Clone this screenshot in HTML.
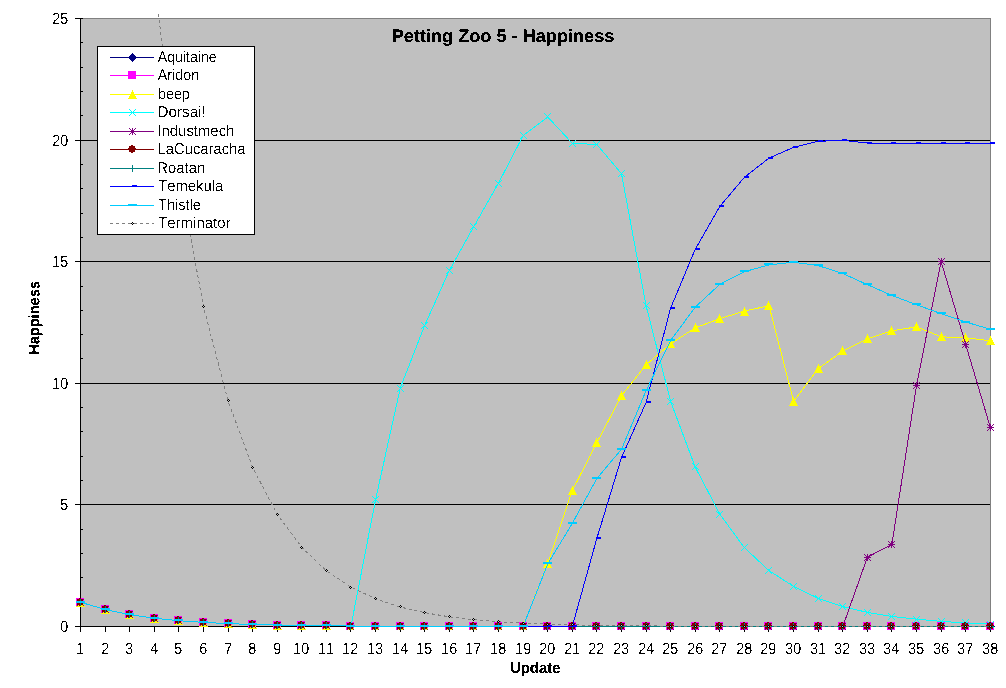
<!DOCTYPE html>
<html><head><meta charset="utf-8"><title>Petting Zoo 5 - Happiness</title>
<style>html,body{margin:0;padding:0;background:#fff;width:1006px;height:688px;overflow:hidden}</style></head>
<body>
<svg width="1006" height="688" viewBox="0 0 1006 688" style="display:block;position:absolute;left:0;top:0;font-kerning:none" text-rendering="geometricPrecision" font-family="'Liberation Sans', sans-serif">
<rect width="1006" height="688" fill="#fff"/>
<g shape-rendering="crispEdges">
<rect x="80" y="18" width="911" height="609" fill="#c0c0c0"/>
<rect x="80" y="504" width="911" height="1" fill="#000"/>
<rect x="80" y="383" width="911" height="1" fill="#000"/>
<rect x="80" y="261" width="911" height="1" fill="#000"/>
<rect x="80" y="140" width="911" height="1" fill="#000"/>
<rect x="80" y="18" width="911" height="1" fill="#808080"/>
<rect x="990" y="18" width="1" height="609" fill="#808080"/>
<rect x="80" y="18" width="1" height="609" fill="#000"/>
<rect x="80" y="626" width="911" height="1" fill="#000"/>
<rect x="75" y="626" width="8" height="1" fill="#000"/>
<rect x="80" y="602" width="3" height="1" fill="#000"/>
<rect x="80" y="577" width="3" height="1" fill="#000"/>
<rect x="80" y="553" width="3" height="1" fill="#000"/>
<rect x="80" y="529" width="3" height="1" fill="#000"/>
<rect x="75" y="504" width="8" height="1" fill="#000"/>
<rect x="80" y="480" width="3" height="1" fill="#000"/>
<rect x="80" y="456" width="3" height="1" fill="#000"/>
<rect x="80" y="431" width="3" height="1" fill="#000"/>
<rect x="80" y="407" width="3" height="1" fill="#000"/>
<rect x="75" y="383" width="8" height="1" fill="#000"/>
<rect x="80" y="358" width="3" height="1" fill="#000"/>
<rect x="80" y="334" width="3" height="1" fill="#000"/>
<rect x="80" y="310" width="3" height="1" fill="#000"/>
<rect x="80" y="286" width="3" height="1" fill="#000"/>
<rect x="75" y="261" width="8" height="1" fill="#000"/>
<rect x="80" y="237" width="3" height="1" fill="#000"/>
<rect x="80" y="213" width="3" height="1" fill="#000"/>
<rect x="80" y="188" width="3" height="1" fill="#000"/>
<rect x="80" y="164" width="3" height="1" fill="#000"/>
<rect x="75" y="140" width="8" height="1" fill="#000"/>
<rect x="80" y="115" width="3" height="1" fill="#000"/>
<rect x="80" y="91" width="3" height="1" fill="#000"/>
<rect x="80" y="67" width="3" height="1" fill="#000"/>
<rect x="80" y="42" width="3" height="1" fill="#000"/>
<rect x="75" y="18" width="8" height="1" fill="#000"/>
<rect x="80" y="626" width="1" height="6" fill="#000"/>
<rect x="105" y="626" width="1" height="6" fill="#000"/>
<rect x="129" y="626" width="1" height="6" fill="#000"/>
<rect x="154" y="626" width="1" height="6" fill="#000"/>
<rect x="178" y="626" width="1" height="6" fill="#000"/>
<rect x="203" y="626" width="1" height="6" fill="#000"/>
<rect x="228" y="626" width="1" height="6" fill="#000"/>
<rect x="252" y="626" width="1" height="6" fill="#000"/>
<rect x="277" y="626" width="1" height="6" fill="#000"/>
<rect x="301" y="626" width="1" height="6" fill="#000"/>
<rect x="326" y="626" width="1" height="6" fill="#000"/>
<rect x="350" y="626" width="1" height="6" fill="#000"/>
<rect x="375" y="626" width="1" height="6" fill="#000"/>
<rect x="400" y="626" width="1" height="6" fill="#000"/>
<rect x="424" y="626" width="1" height="6" fill="#000"/>
<rect x="449" y="626" width="1" height="6" fill="#000"/>
<rect x="473" y="626" width="1" height="6" fill="#000"/>
<rect x="498" y="626" width="1" height="6" fill="#000"/>
<rect x="523" y="626" width="1" height="6" fill="#000"/>
<rect x="547" y="626" width="1" height="6" fill="#000"/>
<rect x="572" y="626" width="1" height="6" fill="#000"/>
<rect x="596" y="626" width="1" height="6" fill="#000"/>
<rect x="621" y="626" width="1" height="6" fill="#000"/>
<rect x="646" y="626" width="1" height="6" fill="#000"/>
<rect x="670" y="626" width="1" height="6" fill="#000"/>
<rect x="695" y="626" width="1" height="6" fill="#000"/>
<rect x="719" y="626" width="1" height="6" fill="#000"/>
<rect x="744" y="626" width="1" height="6" fill="#000"/>
<rect x="768" y="626" width="1" height="6" fill="#000"/>
<rect x="793" y="626" width="1" height="6" fill="#000"/>
<rect x="818" y="626" width="1" height="6" fill="#000"/>
<rect x="842" y="626" width="1" height="6" fill="#000"/>
<rect x="867" y="626" width="1" height="6" fill="#000"/>
<rect x="891" y="626" width="1" height="6" fill="#000"/>
<rect x="916" y="626" width="1" height="6" fill="#000"/>
<rect x="941" y="626" width="1" height="6" fill="#000"/>
<rect x="965" y="626" width="1" height="6" fill="#000"/>
<rect x="990" y="626" width="1" height="6" fill="#000"/>
</g>
<defs><filter id="th" x="-5%" y="-20%" width="110%" height="140%" color-interpolation-filters="sRGB"><feComponentTransfer><feFuncA type="discrete" tableValues="0 0 0 0 0 0 0 0 0 0 0 1 1 1 1 1 1 1 1 1"/></feComponentTransfer></filter><filter id="tb" x="-5%" y="-20%" width="110%" height="140%" color-interpolation-filters="sRGB"><feComponentTransfer><feFuncA type="discrete" tableValues="0 0 1 1 1"/></feComponentTransfer></filter><clipPath id="pc"><rect x="70" y="0" width="936" height="630"/></clipPath></defs>
<g shape-rendering="crispEdges" stroke-width="1" fill="none" clip-path="url(#pc)">
<polyline stroke="#000080" points="80.5,602.2 105.1,609.5 129.7,614.6 154.3,618.2 178.9,620.7 203.4,622.4 228.0,623.6 252.6,624.5 277.2,625.1 301.8,625.5 326.4,625.8 351.0,626.0 375.6,626.2 400.2,626.3 424.7,626.3 449.3,626.4 473.9,626.4 498.5,626.4 523.1,626.5 547.7,626.5 572.3,626.5 596.9,626.5 621.5,626.5 646.1,626.5 670.6,626.5 695.2,626.5 719.8,626.5 744.4,626.5 769.0,626.5 793.6,626.5 818.2,626.5 842.8,626.5 867.4,626.5 891.9,626.5 916.5,626.5 941.1,626.5 965.7,626.5 990.3,626.5"/>
<polygon points="80.5,598 85,602.5 80.5,607 76,602.5" fill="#000080"/>
<polygon points="105.5,605 110,609.5 105.5,614 101,609.5" fill="#000080"/>
<polygon points="129.5,610 134,614.5 129.5,619 125,614.5" fill="#000080"/>
<polygon points="154.5,614 159,618.5 154.5,623 150,618.5" fill="#000080"/>
<polygon points="178.5,616 183,620.5 178.5,625 174,620.5" fill="#000080"/>
<polygon points="203.5,618 208,622.5 203.5,627 199,622.5" fill="#000080"/>
<polygon points="228.5,619 233,623.5 228.5,628 224,623.5" fill="#000080"/>
<polygon points="252.5,620 257,624.5 252.5,629 248,624.5" fill="#000080"/>
<polygon points="277.5,621 282,625.5 277.5,630 273,625.5" fill="#000080"/>
<polygon points="301.5,621 306,625.5 301.5,630 297,625.5" fill="#000080"/>
<polygon points="326.5,621 331,625.5 326.5,630 322,625.5" fill="#000080"/>
<polygon points="350.5,622 355,626.5 350.5,631 346,626.5" fill="#000080"/>
<polygon points="375.5,622 380,626.5 375.5,631 371,626.5" fill="#000080"/>
<polygon points="400.5,622 405,626.5 400.5,631 396,626.5" fill="#000080"/>
<polygon points="424.5,622 429,626.5 424.5,631 420,626.5" fill="#000080"/>
<polygon points="449.5,622 454,626.5 449.5,631 445,626.5" fill="#000080"/>
<polygon points="473.5,622 478,626.5 473.5,631 469,626.5" fill="#000080"/>
<polygon points="498.5,622 503,626.5 498.5,631 494,626.5" fill="#000080"/>
<polygon points="523.5,622 528,626.5 523.5,631 519,626.5" fill="#000080"/>
<polygon points="547.5,622 552,626.5 547.5,631 543,626.5" fill="#000080"/>
<polygon points="572.5,622 577,626.5 572.5,631 568,626.5" fill="#000080"/>
<polygon points="596.5,622 601,626.5 596.5,631 592,626.5" fill="#000080"/>
<polygon points="621.5,622 626,626.5 621.5,631 617,626.5" fill="#000080"/>
<polygon points="646.5,622 651,626.5 646.5,631 642,626.5" fill="#000080"/>
<polygon points="670.5,622 675,626.5 670.5,631 666,626.5" fill="#000080"/>
<polygon points="695.5,622 700,626.5 695.5,631 691,626.5" fill="#000080"/>
<polygon points="719.5,622 724,626.5 719.5,631 715,626.5" fill="#000080"/>
<polygon points="744.5,622 749,626.5 744.5,631 740,626.5" fill="#000080"/>
<polygon points="768.5,622 773,626.5 768.5,631 764,626.5" fill="#000080"/>
<polygon points="793.5,622 798,626.5 793.5,631 789,626.5" fill="#000080"/>
<polygon points="818.5,622 823,626.5 818.5,631 814,626.5" fill="#000080"/>
<polygon points="842.5,622 847,626.5 842.5,631 838,626.5" fill="#000080"/>
<polygon points="867.5,622 872,626.5 867.5,631 863,626.5" fill="#000080"/>
<polygon points="891.5,622 896,626.5 891.5,631 887,626.5" fill="#000080"/>
<polygon points="916.5,622 921,626.5 916.5,631 912,626.5" fill="#000080"/>
<polygon points="941.5,622 946,626.5 941.5,631 937,626.5" fill="#000080"/>
<polygon points="965.5,622 970,626.5 965.5,631 961,626.5" fill="#000080"/>
<polygon points="990.5,622 995,626.5 990.5,631 986,626.5" fill="#000080"/>
<polyline stroke="#ff00ff" points="80.5,602.2 105.1,609.5 129.7,614.6 154.3,618.2 178.9,620.7 203.4,622.4 228.0,623.6 252.6,624.5 277.2,625.1 301.8,625.5 326.4,625.8 351.0,626.0 375.6,626.2 400.2,626.3 424.7,626.3 449.3,626.4 473.9,626.4 498.5,626.4 523.1,626.5 547.7,626.5 572.3,626.5 596.9,626.5 621.5,626.5 646.1,626.5 670.6,626.5 695.2,626.5 719.8,626.5 744.4,626.5 769.0,626.5 793.6,626.5 818.2,626.5 842.8,626.5 867.4,626.5 891.9,626.5 916.5,626.5 941.1,626.5 965.7,626.5 990.3,626.5"/>
<rect x="76" y="598" width="8" height="8" fill="#ff00ff"/>
<rect x="101" y="605" width="8" height="8" fill="#ff00ff"/>
<rect x="125" y="610" width="8" height="8" fill="#ff00ff"/>
<rect x="150" y="614" width="8" height="8" fill="#ff00ff"/>
<rect x="174" y="616" width="8" height="8" fill="#ff00ff"/>
<rect x="199" y="618" width="8" height="8" fill="#ff00ff"/>
<rect x="224" y="619" width="8" height="8" fill="#ff00ff"/>
<rect x="248" y="620" width="8" height="8" fill="#ff00ff"/>
<rect x="273" y="621" width="8" height="8" fill="#ff00ff"/>
<rect x="297" y="621" width="8" height="8" fill="#ff00ff"/>
<rect x="322" y="621" width="8" height="8" fill="#ff00ff"/>
<rect x="346" y="622" width="8" height="8" fill="#ff00ff"/>
<rect x="371" y="622" width="8" height="8" fill="#ff00ff"/>
<rect x="396" y="622" width="8" height="8" fill="#ff00ff"/>
<rect x="420" y="622" width="8" height="8" fill="#ff00ff"/>
<rect x="445" y="622" width="8" height="8" fill="#ff00ff"/>
<rect x="469" y="622" width="8" height="8" fill="#ff00ff"/>
<rect x="494" y="622" width="8" height="8" fill="#ff00ff"/>
<rect x="519" y="622" width="8" height="8" fill="#ff00ff"/>
<rect x="543" y="622" width="8" height="8" fill="#ff00ff"/>
<rect x="568" y="622" width="8" height="8" fill="#ff00ff"/>
<rect x="592" y="622" width="8" height="8" fill="#ff00ff"/>
<rect x="617" y="622" width="8" height="8" fill="#ff00ff"/>
<rect x="642" y="622" width="8" height="8" fill="#ff00ff"/>
<rect x="666" y="622" width="8" height="8" fill="#ff00ff"/>
<rect x="691" y="622" width="8" height="8" fill="#ff00ff"/>
<rect x="715" y="622" width="8" height="8" fill="#ff00ff"/>
<rect x="740" y="622" width="8" height="8" fill="#ff00ff"/>
<rect x="764" y="622" width="8" height="8" fill="#ff00ff"/>
<rect x="789" y="622" width="8" height="8" fill="#ff00ff"/>
<rect x="814" y="622" width="8" height="8" fill="#ff00ff"/>
<rect x="838" y="622" width="8" height="8" fill="#ff00ff"/>
<rect x="863" y="622" width="8" height="8" fill="#ff00ff"/>
<rect x="887" y="622" width="8" height="8" fill="#ff00ff"/>
<rect x="912" y="622" width="8" height="8" fill="#ff00ff"/>
<rect x="937" y="622" width="8" height="8" fill="#ff00ff"/>
<rect x="961" y="622" width="8" height="8" fill="#ff00ff"/>
<rect x="986" y="622" width="8" height="8" fill="#ff00ff"/>
<polyline stroke="#ffff00" points="80.5,602.2 105.1,609.5 129.7,614.6 154.3,618.2 178.9,620.7 203.4,622.4 228.0,623.6 252.6,624.5 277.2,625.1 301.8,625.5 326.4,625.8 351.0,626.0 375.6,626.2 400.2,626.3 424.7,626.3 449.3,626.4 473.9,626.4 498.5,626.4 523.1,626.5 547.7,563.5 572.3,490.6 596.9,442.6 621.5,395.7 646.1,364.8 670.6,343.9 695.2,327.9 719.8,318.6 744.4,311.1 769.0,305.7 793.6,401.3 818.2,368.7 842.8,351.0 867.4,338.8 891.9,330.8 916.5,326.9 941.1,336.8 965.7,337.8 990.3,340.7"/>
<polygon points="80.5,597.5 85,607 76,607" fill="#ffff00"/>
<polygon points="105.5,604.5 110,614 101,614" fill="#ffff00"/>
<polygon points="129.5,609.5 134,619 125,619" fill="#ffff00"/>
<polygon points="154.5,613.5 159,623 150,623" fill="#ffff00"/>
<polygon points="178.5,615.5 183,625 174,625" fill="#ffff00"/>
<polygon points="203.5,617.5 208,627 199,627" fill="#ffff00"/>
<polygon points="228.5,618.5 233,628 224,628" fill="#ffff00"/>
<polygon points="252.5,619.5 257,629 248,629" fill="#ffff00"/>
<polygon points="277.5,620.5 282,630 273,630" fill="#ffff00"/>
<polygon points="301.5,620.5 306,630 297,630" fill="#ffff00"/>
<polygon points="326.5,620.5 331,630 322,630" fill="#ffff00"/>
<polygon points="350.5,621.5 355,631 346,631" fill="#ffff00"/>
<polygon points="375.5,621.5 380,631 371,631" fill="#ffff00"/>
<polygon points="400.5,621.5 405,631 396,631" fill="#ffff00"/>
<polygon points="424.5,621.5 429,631 420,631" fill="#ffff00"/>
<polygon points="449.5,621.5 454,631 445,631" fill="#ffff00"/>
<polygon points="473.5,621.5 478,631 469,631" fill="#ffff00"/>
<polygon points="498.5,621.5 503,631 494,631" fill="#ffff00"/>
<polygon points="523.5,621.5 528,631 519,631" fill="#ffff00"/>
<polygon points="547.5,558.5 552,568 543,568" fill="#ffff00"/>
<polygon points="572.5,485.5 577,495 568,495" fill="#ffff00"/>
<polygon points="596.5,437.5 601,447 592,447" fill="#ffff00"/>
<polygon points="621.5,390.5 626,400 617,400" fill="#ffff00"/>
<polygon points="646.5,359.5 651,369 642,369" fill="#ffff00"/>
<polygon points="670.5,338.5 675,348 666,348" fill="#ffff00"/>
<polygon points="695.5,322.5 700,332 691,332" fill="#ffff00"/>
<polygon points="719.5,313.5 724,323 715,323" fill="#ffff00"/>
<polygon points="744.5,306.5 749,316 740,316" fill="#ffff00"/>
<polygon points="768.5,300.5 773,310 764,310" fill="#ffff00"/>
<polygon points="793.5,396.5 798,406 789,406" fill="#ffff00"/>
<polygon points="818.5,363.5 823,373 814,373" fill="#ffff00"/>
<polygon points="842.5,345.5 847,355 838,355" fill="#ffff00"/>
<polygon points="867.5,333.5 872,343 863,343" fill="#ffff00"/>
<polygon points="891.5,325.5 896,335 887,335" fill="#ffff00"/>
<polygon points="916.5,321.5 921,331 912,331" fill="#ffff00"/>
<polygon points="941.5,331.5 946,341 937,341" fill="#ffff00"/>
<polygon points="965.5,332.5 970,342 961,342" fill="#ffff00"/>
<polygon points="990.5,335.5 995,345 986,345" fill="#ffff00"/>
<polyline stroke="#00ffff" points="80.5,602.2 105.1,609.5 129.7,614.6 154.3,618.2 178.9,620.7 203.4,622.4 228.0,623.6 252.6,624.5 277.2,625.1 301.8,625.5 326.4,625.8 351.0,626.0 375.6,499.5 400.2,388.2 424.7,325.4 449.3,270.5 473.9,226.4 498.5,183.1 523.1,135.7 547.7,117.0 572.3,143.3 596.9,144.5 621.5,173.7 646.1,306.0 670.6,401.3 695.2,467.0 719.8,514.1 744.4,547.7 769.0,570.6 793.6,586.4 818.2,598.3 842.8,606.6 867.4,612.4 891.9,616.5 916.5,619.2 941.1,621.4 965.7,622.9 990.3,624.1"/>
<path d="M77,599L84,606M84,599L77,606" stroke="#00ffff" fill="none"/>
<path d="M102,606L109,613M109,606L102,613" stroke="#00ffff" fill="none"/>
<path d="M126,611L133,618M133,611L126,618" stroke="#00ffff" fill="none"/>
<path d="M151,615L158,622M158,615L151,622" stroke="#00ffff" fill="none"/>
<path d="M175,617L182,624M182,617L175,624" stroke="#00ffff" fill="none"/>
<path d="M200,619L207,626M207,619L200,626" stroke="#00ffff" fill="none"/>
<path d="M225,620L232,627M232,620L225,627" stroke="#00ffff" fill="none"/>
<path d="M249,621L256,628M256,621L249,628" stroke="#00ffff" fill="none"/>
<path d="M274,622L281,629M281,622L274,629" stroke="#00ffff" fill="none"/>
<path d="M298,622L305,629M305,622L298,629" stroke="#00ffff" fill="none"/>
<path d="M323,622L330,629M330,622L323,629" stroke="#00ffff" fill="none"/>
<path d="M347,623L354,630M354,623L347,630" stroke="#00ffff" fill="none"/>
<path d="M372,496L379,503M379,496L372,503" stroke="#00ffff" fill="none"/>
<path d="M397,385L404,392M404,385L397,392" stroke="#00ffff" fill="none"/>
<path d="M421,322L428,329M428,322L421,329" stroke="#00ffff" fill="none"/>
<path d="M446,267L453,274M453,267L446,274" stroke="#00ffff" fill="none"/>
<path d="M470,223L477,230M477,223L470,230" stroke="#00ffff" fill="none"/>
<path d="M495,180L502,187M502,180L495,187" stroke="#00ffff" fill="none"/>
<path d="M520,132L527,139M527,132L520,139" stroke="#00ffff" fill="none"/>
<path d="M544,113L551,120M551,113L544,120" stroke="#00ffff" fill="none"/>
<path d="M569,140L576,147M576,140L569,147" stroke="#00ffff" fill="none"/>
<path d="M593,141L600,148M600,141L593,148" stroke="#00ffff" fill="none"/>
<path d="M618,170L625,177M625,170L618,177" stroke="#00ffff" fill="none"/>
<path d="M643,302L650,309M650,302L643,309" stroke="#00ffff" fill="none"/>
<path d="M667,398L674,405M674,398L667,405" stroke="#00ffff" fill="none"/>
<path d="M692,463L699,470M699,463L692,470" stroke="#00ffff" fill="none"/>
<path d="M716,511L723,518M723,511L716,518" stroke="#00ffff" fill="none"/>
<path d="M741,544L748,551M748,544L741,551" stroke="#00ffff" fill="none"/>
<path d="M765,567L772,574M772,567L765,574" stroke="#00ffff" fill="none"/>
<path d="M790,583L797,590M797,583L790,590" stroke="#00ffff" fill="none"/>
<path d="M815,595L822,602M822,595L815,602" stroke="#00ffff" fill="none"/>
<path d="M839,603L846,610M846,603L839,610" stroke="#00ffff" fill="none"/>
<path d="M864,609L871,616M871,609L864,616" stroke="#00ffff" fill="none"/>
<path d="M888,613L895,620M895,613L888,620" stroke="#00ffff" fill="none"/>
<path d="M913,616L920,623M920,616L913,623" stroke="#00ffff" fill="none"/>
<path d="M938,618L945,625M945,618L938,625" stroke="#00ffff" fill="none"/>
<path d="M962,619L969,626M969,619L962,626" stroke="#00ffff" fill="none"/>
<path d="M987,621L994,628M994,621L987,628" stroke="#00ffff" fill="none"/>
<polyline stroke="#800080" points="80.5,602.2 105.1,609.5 129.7,614.6 154.3,618.2 178.9,620.7 203.4,622.4 228.0,623.6 252.6,624.5 277.2,625.1 301.8,625.5 326.4,625.8 351.0,626.0 375.6,626.2 400.2,626.3 424.7,626.3 449.3,626.4 473.9,626.4 498.5,626.4 523.1,626.5 547.7,626.5 572.3,626.5 596.9,626.5 621.5,626.5 646.1,626.5 670.6,626.5 695.2,626.5 719.8,626.5 744.4,626.5 769.0,626.5 793.6,626.5 818.2,626.5 842.8,626.5 867.4,557.2 891.9,544.3 916.5,385.5 941.1,261.5 965.7,344.4 990.3,427.3"/>
<path d="M77,599L84,606M84,599L77,606M80.5,599V606M77,602.5H84" stroke="#800080" fill="none"/>
<path d="M102,606L109,613M109,606L102,613M105.5,606V613M102,609.5H109" stroke="#800080" fill="none"/>
<path d="M126,611L133,618M133,611L126,618M129.5,611V618M126,614.5H133" stroke="#800080" fill="none"/>
<path d="M151,615L158,622M158,615L151,622M154.5,615V622M151,618.5H158" stroke="#800080" fill="none"/>
<path d="M175,617L182,624M182,617L175,624M178.5,617V624M175,620.5H182" stroke="#800080" fill="none"/>
<path d="M200,619L207,626M207,619L200,626M203.5,619V626M200,622.5H207" stroke="#800080" fill="none"/>
<path d="M225,620L232,627M232,620L225,627M228.5,620V627M225,623.5H232" stroke="#800080" fill="none"/>
<path d="M249,621L256,628M256,621L249,628M252.5,621V628M249,624.5H256" stroke="#800080" fill="none"/>
<path d="M274,622L281,629M281,622L274,629M277.5,622V629M274,625.5H281" stroke="#800080" fill="none"/>
<path d="M298,622L305,629M305,622L298,629M301.5,622V629M298,625.5H305" stroke="#800080" fill="none"/>
<path d="M323,622L330,629M330,622L323,629M326.5,622V629M323,625.5H330" stroke="#800080" fill="none"/>
<path d="M347,623L354,630M354,623L347,630M350.5,623V630M347,626.5H354" stroke="#800080" fill="none"/>
<path d="M372,623L379,630M379,623L372,630M375.5,623V630M372,626.5H379" stroke="#800080" fill="none"/>
<path d="M397,623L404,630M404,623L397,630M400.5,623V630M397,626.5H404" stroke="#800080" fill="none"/>
<path d="M421,623L428,630M428,623L421,630M424.5,623V630M421,626.5H428" stroke="#800080" fill="none"/>
<path d="M446,623L453,630M453,623L446,630M449.5,623V630M446,626.5H453" stroke="#800080" fill="none"/>
<path d="M470,623L477,630M477,623L470,630M473.5,623V630M470,626.5H477" stroke="#800080" fill="none"/>
<path d="M495,623L502,630M502,623L495,630M498.5,623V630M495,626.5H502" stroke="#800080" fill="none"/>
<path d="M520,623L527,630M527,623L520,630M523.5,623V630M520,626.5H527" stroke="#800080" fill="none"/>
<path d="M544,623L551,630M551,623L544,630M547.5,623V630M544,626.5H551" stroke="#800080" fill="none"/>
<path d="M569,623L576,630M576,623L569,630M572.5,623V630M569,626.5H576" stroke="#800080" fill="none"/>
<path d="M593,623L600,630M600,623L593,630M596.5,623V630M593,626.5H600" stroke="#800080" fill="none"/>
<path d="M618,623L625,630M625,623L618,630M621.5,623V630M618,626.5H625" stroke="#800080" fill="none"/>
<path d="M643,623L650,630M650,623L643,630M646.5,623V630M643,626.5H650" stroke="#800080" fill="none"/>
<path d="M667,623L674,630M674,623L667,630M670.5,623V630M667,626.5H674" stroke="#800080" fill="none"/>
<path d="M692,623L699,630M699,623L692,630M695.5,623V630M692,626.5H699" stroke="#800080" fill="none"/>
<path d="M716,623L723,630M723,623L716,630M719.5,623V630M716,626.5H723" stroke="#800080" fill="none"/>
<path d="M741,623L748,630M748,623L741,630M744.5,623V630M741,626.5H748" stroke="#800080" fill="none"/>
<path d="M765,623L772,630M772,623L765,630M768.5,623V630M765,626.5H772" stroke="#800080" fill="none"/>
<path d="M790,623L797,630M797,623L790,630M793.5,623V630M790,626.5H797" stroke="#800080" fill="none"/>
<path d="M815,623L822,630M822,623L815,630M818.5,623V630M815,626.5H822" stroke="#800080" fill="none"/>
<path d="M839,623L846,630M846,623L839,630M842.5,623V630M839,626.5H846" stroke="#800080" fill="none"/>
<path d="M864,554L871,561M871,554L864,561M867.5,554V561M864,557.5H871" stroke="#800080" fill="none"/>
<path d="M888,541L895,548M895,541L888,548M891.5,541V548M888,544.5H895" stroke="#800080" fill="none"/>
<path d="M913,382L920,389M920,382L913,389M916.5,382V389M913,385.5H920" stroke="#800080" fill="none"/>
<path d="M938,258L945,265M945,258L938,265M941.5,258V265M938,261.5H945" stroke="#800080" fill="none"/>
<path d="M962,341L969,348M969,341L962,348M965.5,341V348M962,344.5H969" stroke="#800080" fill="none"/>
<path d="M987,424L994,431M994,424L987,431M990.5,424V431M987,427.5H994" stroke="#800080" fill="none"/>
<polyline stroke="#800000" points="80.5,602.2 105.1,609.5 129.7,614.6 154.3,618.2 178.9,620.7 203.4,622.4 228.0,623.6 252.6,624.5 277.2,625.1 301.8,625.5 326.4,625.8 351.0,626.0 375.6,626.2 400.2,626.3 424.7,626.3 449.3,626.4 473.9,626.4 498.5,626.4 523.1,626.5 547.7,626.5 572.3,626.5 596.9,626.5 621.5,626.5 646.1,626.5 670.6,626.5 695.2,626.5 719.8,626.5 744.4,626.5 769.0,626.5 793.6,626.5 818.2,626.5 842.8,626.5 867.4,626.5 891.9,626.5 916.5,626.5 941.1,626.5 965.7,626.5 990.3,626.5"/>
<path d="M79,598h2v1h2v2h1v2h-1v2h-2v1h-2v-1h-2v-2h-1v-2h1v-2h2z" fill="#800000"/>
<path d="M104,605h2v1h2v2h1v2h-1v2h-2v1h-2v-1h-2v-2h-1v-2h1v-2h2z" fill="#800000"/>
<path d="M128,610h2v1h2v2h1v2h-1v2h-2v1h-2v-1h-2v-2h-1v-2h1v-2h2z" fill="#800000"/>
<path d="M153,614h2v1h2v2h1v2h-1v2h-2v1h-2v-1h-2v-2h-1v-2h1v-2h2z" fill="#800000"/>
<path d="M177,616h2v1h2v2h1v2h-1v2h-2v1h-2v-1h-2v-2h-1v-2h1v-2h2z" fill="#800000"/>
<path d="M202,618h2v1h2v2h1v2h-1v2h-2v1h-2v-1h-2v-2h-1v-2h1v-2h2z" fill="#800000"/>
<path d="M227,619h2v1h2v2h1v2h-1v2h-2v1h-2v-1h-2v-2h-1v-2h1v-2h2z" fill="#800000"/>
<path d="M251,620h2v1h2v2h1v2h-1v2h-2v1h-2v-1h-2v-2h-1v-2h1v-2h2z" fill="#800000"/>
<path d="M276,621h2v1h2v2h1v2h-1v2h-2v1h-2v-1h-2v-2h-1v-2h1v-2h2z" fill="#800000"/>
<path d="M300,621h2v1h2v2h1v2h-1v2h-2v1h-2v-1h-2v-2h-1v-2h1v-2h2z" fill="#800000"/>
<path d="M325,621h2v1h2v2h1v2h-1v2h-2v1h-2v-1h-2v-2h-1v-2h1v-2h2z" fill="#800000"/>
<path d="M349,622h2v1h2v2h1v2h-1v2h-2v1h-2v-1h-2v-2h-1v-2h1v-2h2z" fill="#800000"/>
<path d="M374,622h2v1h2v2h1v2h-1v2h-2v1h-2v-1h-2v-2h-1v-2h1v-2h2z" fill="#800000"/>
<path d="M399,622h2v1h2v2h1v2h-1v2h-2v1h-2v-1h-2v-2h-1v-2h1v-2h2z" fill="#800000"/>
<path d="M423,622h2v1h2v2h1v2h-1v2h-2v1h-2v-1h-2v-2h-1v-2h1v-2h2z" fill="#800000"/>
<path d="M448,622h2v1h2v2h1v2h-1v2h-2v1h-2v-1h-2v-2h-1v-2h1v-2h2z" fill="#800000"/>
<path d="M472,622h2v1h2v2h1v2h-1v2h-2v1h-2v-1h-2v-2h-1v-2h1v-2h2z" fill="#800000"/>
<path d="M497,622h2v1h2v2h1v2h-1v2h-2v1h-2v-1h-2v-2h-1v-2h1v-2h2z" fill="#800000"/>
<path d="M522,622h2v1h2v2h1v2h-1v2h-2v1h-2v-1h-2v-2h-1v-2h1v-2h2z" fill="#800000"/>
<path d="M546,622h2v1h2v2h1v2h-1v2h-2v1h-2v-1h-2v-2h-1v-2h1v-2h2z" fill="#800000"/>
<path d="M571,622h2v1h2v2h1v2h-1v2h-2v1h-2v-1h-2v-2h-1v-2h1v-2h2z" fill="#800000"/>
<path d="M595,622h2v1h2v2h1v2h-1v2h-2v1h-2v-1h-2v-2h-1v-2h1v-2h2z" fill="#800000"/>
<path d="M620,622h2v1h2v2h1v2h-1v2h-2v1h-2v-1h-2v-2h-1v-2h1v-2h2z" fill="#800000"/>
<path d="M645,622h2v1h2v2h1v2h-1v2h-2v1h-2v-1h-2v-2h-1v-2h1v-2h2z" fill="#800000"/>
<path d="M669,622h2v1h2v2h1v2h-1v2h-2v1h-2v-1h-2v-2h-1v-2h1v-2h2z" fill="#800000"/>
<path d="M694,622h2v1h2v2h1v2h-1v2h-2v1h-2v-1h-2v-2h-1v-2h1v-2h2z" fill="#800000"/>
<path d="M718,622h2v1h2v2h1v2h-1v2h-2v1h-2v-1h-2v-2h-1v-2h1v-2h2z" fill="#800000"/>
<path d="M743,622h2v1h2v2h1v2h-1v2h-2v1h-2v-1h-2v-2h-1v-2h1v-2h2z" fill="#800000"/>
<path d="M767,622h2v1h2v2h1v2h-1v2h-2v1h-2v-1h-2v-2h-1v-2h1v-2h2z" fill="#800000"/>
<path d="M792,622h2v1h2v2h1v2h-1v2h-2v1h-2v-1h-2v-2h-1v-2h1v-2h2z" fill="#800000"/>
<path d="M817,622h2v1h2v2h1v2h-1v2h-2v1h-2v-1h-2v-2h-1v-2h1v-2h2z" fill="#800000"/>
<path d="M841,622h2v1h2v2h1v2h-1v2h-2v1h-2v-1h-2v-2h-1v-2h1v-2h2z" fill="#800000"/>
<path d="M866,622h2v1h2v2h1v2h-1v2h-2v1h-2v-1h-2v-2h-1v-2h1v-2h2z" fill="#800000"/>
<path d="M890,622h2v1h2v2h1v2h-1v2h-2v1h-2v-1h-2v-2h-1v-2h1v-2h2z" fill="#800000"/>
<path d="M915,622h2v1h2v2h1v2h-1v2h-2v1h-2v-1h-2v-2h-1v-2h1v-2h2z" fill="#800000"/>
<path d="M940,622h2v1h2v2h1v2h-1v2h-2v1h-2v-1h-2v-2h-1v-2h1v-2h2z" fill="#800000"/>
<path d="M964,622h2v1h2v2h1v2h-1v2h-2v1h-2v-1h-2v-2h-1v-2h1v-2h2z" fill="#800000"/>
<path d="M989,622h2v1h2v2h1v2h-1v2h-2v1h-2v-1h-2v-2h-1v-2h1v-2h2z" fill="#800000"/>
<polyline stroke="#008080" points="80.5,602.2 105.1,609.5 129.7,614.6 154.3,618.2 178.9,620.7 203.4,622.4 228.0,623.6 252.6,624.5 277.2,625.1 301.8,625.5 326.4,625.8 351.0,626.0 375.6,626.2 400.2,626.3 424.7,626.3 449.3,626.4 473.9,626.4 498.5,626.4 523.1,626.5 547.7,626.5 572.3,626.5 596.9,626.5 621.5,626.5 646.1,626.5 670.6,626.5 695.2,626.5 719.8,626.5 744.4,626.5 769.0,626.5 793.6,626.5 818.2,626.5 842.8,626.5 867.4,626.5 891.9,626.5 916.5,626.5 941.1,626.5 965.7,626.5 990.3,626.5"/>
<path d="M80.5,599V606M77,602.5H84" stroke="#008080" fill="none"/>
<path d="M105.5,606V613M102,609.5H109" stroke="#008080" fill="none"/>
<path d="M129.5,611V618M126,614.5H133" stroke="#008080" fill="none"/>
<path d="M154.5,615V622M151,618.5H158" stroke="#008080" fill="none"/>
<path d="M178.5,617V624M175,620.5H182" stroke="#008080" fill="none"/>
<path d="M203.5,619V626M200,622.5H207" stroke="#008080" fill="none"/>
<path d="M228.5,620V627M225,623.5H232" stroke="#008080" fill="none"/>
<path d="M252.5,621V628M249,624.5H256" stroke="#008080" fill="none"/>
<path d="M277.5,622V629M274,625.5H281" stroke="#008080" fill="none"/>
<path d="M301.5,622V629M298,625.5H305" stroke="#008080" fill="none"/>
<path d="M326.5,622V629M323,625.5H330" stroke="#008080" fill="none"/>
<path d="M350.5,623V630M347,626.5H354" stroke="#008080" fill="none"/>
<path d="M375.5,623V630M372,626.5H379" stroke="#008080" fill="none"/>
<path d="M400.5,623V630M397,626.5H404" stroke="#008080" fill="none"/>
<path d="M424.5,623V630M421,626.5H428" stroke="#008080" fill="none"/>
<path d="M449.5,623V630M446,626.5H453" stroke="#008080" fill="none"/>
<path d="M473.5,623V630M470,626.5H477" stroke="#008080" fill="none"/>
<path d="M498.5,623V630M495,626.5H502" stroke="#008080" fill="none"/>
<path d="M523.5,623V630M520,626.5H527" stroke="#008080" fill="none"/>
<path d="M547.5,623V630M544,626.5H551" stroke="#008080" fill="none"/>
<path d="M572.5,623V630M569,626.5H576" stroke="#008080" fill="none"/>
<path d="M596.5,623V630M593,626.5H600" stroke="#008080" fill="none"/>
<path d="M621.5,623V630M618,626.5H625" stroke="#008080" fill="none"/>
<path d="M646.5,623V630M643,626.5H650" stroke="#008080" fill="none"/>
<path d="M670.5,623V630M667,626.5H674" stroke="#008080" fill="none"/>
<path d="M695.5,623V630M692,626.5H699" stroke="#008080" fill="none"/>
<path d="M719.5,623V630M716,626.5H723" stroke="#008080" fill="none"/>
<path d="M744.5,623V630M741,626.5H748" stroke="#008080" fill="none"/>
<path d="M768.5,623V630M765,626.5H772" stroke="#008080" fill="none"/>
<path d="M793.5,623V630M790,626.5H797" stroke="#008080" fill="none"/>
<path d="M818.5,623V630M815,626.5H822" stroke="#008080" fill="none"/>
<path d="M842.5,623V630M839,626.5H846" stroke="#008080" fill="none"/>
<path d="M867.5,623V630M864,626.5H871" stroke="#008080" fill="none"/>
<path d="M891.5,623V630M888,626.5H895" stroke="#008080" fill="none"/>
<path d="M916.5,623V630M913,626.5H920" stroke="#008080" fill="none"/>
<path d="M941.5,623V630M938,626.5H945" stroke="#008080" fill="none"/>
<path d="M965.5,623V630M962,626.5H969" stroke="#008080" fill="none"/>
<path d="M990.5,623V630M987,626.5H994" stroke="#008080" fill="none"/>
<polyline stroke="#0000ff" points="80.5,602.2 105.1,609.5 129.7,614.6 154.3,618.2 178.9,620.7 203.4,622.4 228.0,623.6 252.6,624.5 277.2,625.1 301.8,625.5 326.4,625.8 351.0,626.0 375.6,626.2 400.2,626.3 424.7,626.3 449.3,626.4 473.9,626.4 498.5,626.4 523.1,626.5 547.7,626.5 572.3,626.5 596.9,538.2 621.5,457.5 646.1,402.5 670.6,308.2 695.2,249.3 719.8,206.5 744.4,177.3 769.0,158.1 793.6,147.4 818.2,141.3 842.8,140.3 867.4,143.0 891.9,143.0 916.5,143.0 941.1,143.0 965.7,143.0 990.3,143.0"/>
<rect x="80" y="601" width="5" height="2" fill="#0000ff"/>
<rect x="105" y="608" width="5" height="2" fill="#0000ff"/>
<rect x="129" y="613" width="5" height="2" fill="#0000ff"/>
<rect x="154" y="617" width="5" height="2" fill="#0000ff"/>
<rect x="178" y="619" width="5" height="2" fill="#0000ff"/>
<rect x="203" y="621" width="5" height="2" fill="#0000ff"/>
<rect x="228" y="622" width="5" height="2" fill="#0000ff"/>
<rect x="252" y="623" width="5" height="2" fill="#0000ff"/>
<rect x="277" y="624" width="5" height="2" fill="#0000ff"/>
<rect x="301" y="624" width="5" height="2" fill="#0000ff"/>
<rect x="326" y="624" width="5" height="2" fill="#0000ff"/>
<rect x="350" y="625" width="5" height="2" fill="#0000ff"/>
<rect x="375" y="625" width="5" height="2" fill="#0000ff"/>
<rect x="400" y="625" width="5" height="2" fill="#0000ff"/>
<rect x="424" y="625" width="5" height="2" fill="#0000ff"/>
<rect x="449" y="625" width="5" height="2" fill="#0000ff"/>
<rect x="473" y="625" width="5" height="2" fill="#0000ff"/>
<rect x="498" y="625" width="5" height="2" fill="#0000ff"/>
<rect x="523" y="625" width="5" height="2" fill="#0000ff"/>
<rect x="547" y="625" width="5" height="2" fill="#0000ff"/>
<rect x="572" y="625" width="5" height="2" fill="#0000ff"/>
<rect x="596" y="537" width="5" height="2" fill="#0000ff"/>
<rect x="621" y="456" width="5" height="2" fill="#0000ff"/>
<rect x="646" y="401" width="5" height="2" fill="#0000ff"/>
<rect x="670" y="307" width="5" height="2" fill="#0000ff"/>
<rect x="695" y="248" width="5" height="2" fill="#0000ff"/>
<rect x="719" y="205" width="5" height="2" fill="#0000ff"/>
<rect x="744" y="176" width="5" height="2" fill="#0000ff"/>
<rect x="768" y="157" width="5" height="2" fill="#0000ff"/>
<rect x="793" y="146" width="5" height="2" fill="#0000ff"/>
<rect x="818" y="140" width="5" height="2" fill="#0000ff"/>
<rect x="842" y="139" width="5" height="2" fill="#0000ff"/>
<rect x="867" y="142" width="5" height="2" fill="#0000ff"/>
<rect x="891" y="142" width="5" height="2" fill="#0000ff"/>
<rect x="916" y="142" width="5" height="2" fill="#0000ff"/>
<rect x="941" y="142" width="5" height="2" fill="#0000ff"/>
<rect x="965" y="142" width="5" height="2" fill="#0000ff"/>
<rect x="990" y="142" width="5" height="2" fill="#0000ff"/>
<polyline stroke="#00ccff" points="80.5,602.2 105.1,609.5 129.7,614.6 154.3,618.2 178.9,620.7 203.4,622.4 228.0,623.6 252.6,624.5 277.2,625.1 301.8,625.5 326.4,625.8 351.0,626.0 375.6,626.2 400.2,626.3 424.7,626.3 449.3,626.4 473.9,626.4 498.5,626.4 523.1,626.5 547.7,564.0 572.3,523.4 596.9,478.4 621.5,449.2 646.1,390.6 670.6,340.5 695.2,307.2 719.8,284.3 744.4,271.7 769.0,264.9 793.6,262.2 818.2,265.6 842.8,273.6 867.4,284.6 891.9,295.5 916.5,304.7 941.1,313.7 965.7,322.0 990.3,329.3"/>
<rect x="76" y="601" width="9" height="2" fill="#00ccff"/>
<rect x="101" y="608" width="9" height="2" fill="#00ccff"/>
<rect x="125" y="613" width="9" height="2" fill="#00ccff"/>
<rect x="150" y="617" width="9" height="2" fill="#00ccff"/>
<rect x="174" y="619" width="9" height="2" fill="#00ccff"/>
<rect x="199" y="621" width="9" height="2" fill="#00ccff"/>
<rect x="224" y="622" width="9" height="2" fill="#00ccff"/>
<rect x="248" y="623" width="9" height="2" fill="#00ccff"/>
<rect x="273" y="624" width="9" height="2" fill="#00ccff"/>
<rect x="297" y="624" width="9" height="2" fill="#00ccff"/>
<rect x="322" y="624" width="9" height="2" fill="#00ccff"/>
<rect x="346" y="625" width="9" height="2" fill="#00ccff"/>
<rect x="371" y="625" width="9" height="2" fill="#00ccff"/>
<rect x="396" y="625" width="9" height="2" fill="#00ccff"/>
<rect x="420" y="625" width="9" height="2" fill="#00ccff"/>
<rect x="445" y="625" width="9" height="2" fill="#00ccff"/>
<rect x="469" y="625" width="9" height="2" fill="#00ccff"/>
<rect x="494" y="625" width="9" height="2" fill="#00ccff"/>
<rect x="519" y="625" width="9" height="2" fill="#00ccff"/>
<rect x="543" y="562" width="9" height="2" fill="#00ccff"/>
<rect x="568" y="522" width="9" height="2" fill="#00ccff"/>
<rect x="592" y="477" width="9" height="2" fill="#00ccff"/>
<rect x="617" y="448" width="9" height="2" fill="#00ccff"/>
<rect x="642" y="389" width="9" height="2" fill="#00ccff"/>
<rect x="666" y="339" width="9" height="2" fill="#00ccff"/>
<rect x="691" y="306" width="9" height="2" fill="#00ccff"/>
<rect x="715" y="283" width="9" height="2" fill="#00ccff"/>
<rect x="740" y="270" width="9" height="2" fill="#00ccff"/>
<rect x="764" y="263" width="9" height="2" fill="#00ccff"/>
<rect x="789" y="261" width="9" height="2" fill="#00ccff"/>
<rect x="814" y="264" width="9" height="2" fill="#00ccff"/>
<rect x="838" y="272" width="9" height="2" fill="#00ccff"/>
<rect x="863" y="283" width="9" height="2" fill="#00ccff"/>
<rect x="887" y="294" width="9" height="2" fill="#00ccff"/>
<rect x="912" y="303" width="9" height="2" fill="#00ccff"/>
<rect x="937" y="312" width="9" height="2" fill="#00ccff"/>
<rect x="961" y="321" width="9" height="2" fill="#00ccff"/>
<rect x="986" y="328" width="9" height="2" fill="#00ccff"/>
<polyline stroke="#808080" stroke-dasharray="3 3" points="158.3,14.0 178.9,172.5 203.4,306.4 228.0,400.9 252.6,467.4 277.2,514.4 301.8,547.4 326.4,570.8 351.0,587.2 375.6,598.8 400.2,607.0 424.7,612.7 449.3,616.8 473.9,619.7 498.5,621.7 523.1,623.1 547.7,624.1 572.3,624.8 596.9,625.3 621.5,625.7 646.1,625.9 670.6,626.1 695.2,626.2 719.8,626.3 744.4,626.4 769.0,626.4 793.6,626.4 818.2,626.4 842.8,626.5 867.4,626.5 891.9,626.5 916.5,626.5 941.1,626.5 965.7,626.5 990.3,626.5"/>
<path d="M178,171h1v1h1v1h-1v1h-1v-1h-1v-1h1z" fill="#000"/><rect x="178" y="172" width="1" height="1" fill="#c8c8c8"/>
<path d="M203,305h1v1h1v1h-1v1h-1v-1h-1v-1h1z" fill="#000"/><rect x="203" y="306" width="1" height="1" fill="#c8c8c8"/>
<path d="M228,399h1v1h1v1h-1v1h-1v-1h-1v-1h1z" fill="#000"/><rect x="228" y="400" width="1" height="1" fill="#c8c8c8"/>
<path d="M252,466h1v1h1v1h-1v1h-1v-1h-1v-1h1z" fill="#000"/><rect x="252" y="467" width="1" height="1" fill="#c8c8c8"/>
<path d="M277,513h1v1h1v1h-1v1h-1v-1h-1v-1h1z" fill="#000"/><rect x="277" y="514" width="1" height="1" fill="#c8c8c8"/>
<path d="M301,546h1v1h1v1h-1v1h-1v-1h-1v-1h1z" fill="#000"/><rect x="301" y="547" width="1" height="1" fill="#c8c8c8"/>
<path d="M326,569h1v1h1v1h-1v1h-1v-1h-1v-1h1z" fill="#000"/><rect x="326" y="570" width="1" height="1" fill="#c8c8c8"/>
<path d="M350,586h1v1h1v1h-1v1h-1v-1h-1v-1h1z" fill="#000"/><rect x="350" y="587" width="1" height="1" fill="#c8c8c8"/>
<path d="M375,597h1v1h1v1h-1v1h-1v-1h-1v-1h1z" fill="#000"/><rect x="375" y="598" width="1" height="1" fill="#c8c8c8"/>
<path d="M400,605h1v1h1v1h-1v1h-1v-1h-1v-1h1z" fill="#000"/><rect x="400" y="606" width="1" height="1" fill="#c8c8c8"/>
<path d="M424,611h1v1h1v1h-1v1h-1v-1h-1v-1h1z" fill="#000"/><rect x="424" y="612" width="1" height="1" fill="#c8c8c8"/>
<path d="M449,615h1v1h1v1h-1v1h-1v-1h-1v-1h1z" fill="#000"/><rect x="449" y="616" width="1" height="1" fill="#c8c8c8"/>
<path d="M473,618h1v1h1v1h-1v1h-1v-1h-1v-1h1z" fill="#000"/><rect x="473" y="619" width="1" height="1" fill="#c8c8c8"/>
<path d="M498,620h1v1h1v1h-1v1h-1v-1h-1v-1h1z" fill="#000"/><rect x="498" y="621" width="1" height="1" fill="#c8c8c8"/>
<path d="M523,622h1v1h1v1h-1v1h-1v-1h-1v-1h1z" fill="#000"/><rect x="523" y="623" width="1" height="1" fill="#c8c8c8"/>
<path d="M547,623h1v1h1v1h-1v1h-1v-1h-1v-1h1z" fill="#000"/><rect x="547" y="624" width="1" height="1" fill="#c8c8c8"/>
<path d="M572,623h1v1h1v1h-1v1h-1v-1h-1v-1h1z" fill="#000"/><rect x="572" y="624" width="1" height="1" fill="#c8c8c8"/>
<path d="M596,624h1v1h1v1h-1v1h-1v-1h-1v-1h1z" fill="#000"/><rect x="596" y="625" width="1" height="1" fill="#c8c8c8"/>
<path d="M621,624h1v1h1v1h-1v1h-1v-1h-1v-1h1z" fill="#000"/><rect x="621" y="625" width="1" height="1" fill="#c8c8c8"/>
<path d="M646,624h1v1h1v1h-1v1h-1v-1h-1v-1h1z" fill="#000"/><rect x="646" y="625" width="1" height="1" fill="#c8c8c8"/>
<path d="M670,625h1v1h1v1h-1v1h-1v-1h-1v-1h1z" fill="#000"/><rect x="670" y="626" width="1" height="1" fill="#c8c8c8"/>
<path d="M695,625h1v1h1v1h-1v1h-1v-1h-1v-1h1z" fill="#000"/><rect x="695" y="626" width="1" height="1" fill="#c8c8c8"/>
<path d="M719,625h1v1h1v1h-1v1h-1v-1h-1v-1h1z" fill="#000"/><rect x="719" y="626" width="1" height="1" fill="#c8c8c8"/>
<path d="M744,625h1v1h1v1h-1v1h-1v-1h-1v-1h1z" fill="#000"/><rect x="744" y="626" width="1" height="1" fill="#c8c8c8"/>
<path d="M768,625h1v1h1v1h-1v1h-1v-1h-1v-1h1z" fill="#000"/><rect x="768" y="626" width="1" height="1" fill="#c8c8c8"/>
<path d="M793,625h1v1h1v1h-1v1h-1v-1h-1v-1h1z" fill="#000"/><rect x="793" y="626" width="1" height="1" fill="#c8c8c8"/>
<path d="M818,625h1v1h1v1h-1v1h-1v-1h-1v-1h1z" fill="#000"/><rect x="818" y="626" width="1" height="1" fill="#c8c8c8"/>
<path d="M842,625h1v1h1v1h-1v1h-1v-1h-1v-1h1z" fill="#000"/><rect x="842" y="626" width="1" height="1" fill="#c8c8c8"/>
<path d="M867,625h1v1h1v1h-1v1h-1v-1h-1v-1h1z" fill="#000"/><rect x="867" y="626" width="1" height="1" fill="#c8c8c8"/>
<path d="M891,625h1v1h1v1h-1v1h-1v-1h-1v-1h1z" fill="#000"/><rect x="891" y="626" width="1" height="1" fill="#c8c8c8"/>
<path d="M916,625h1v1h1v1h-1v1h-1v-1h-1v-1h1z" fill="#000"/><rect x="916" y="626" width="1" height="1" fill="#c8c8c8"/>
<path d="M941,625h1v1h1v1h-1v1h-1v-1h-1v-1h1z" fill="#000"/><rect x="941" y="626" width="1" height="1" fill="#c8c8c8"/>
<path d="M965,625h1v1h1v1h-1v1h-1v-1h-1v-1h1z" fill="#000"/><rect x="965" y="626" width="1" height="1" fill="#c8c8c8"/>
<path d="M990,625h1v1h1v1h-1v1h-1v-1h-1v-1h1z" fill="#000"/><rect x="990" y="626" width="1" height="1" fill="#c8c8c8"/>
</g>
<g shape-rendering="crispEdges">
<rect x="97.5" y="46.5" width="157" height="188" fill="#fff" stroke="#000" stroke-width="1"/>
<rect x="110" y="57" width="44" height="1" fill="#000080"/>
<polygon points="132.5,53 137,57.5 132.5,62 128,57.5" fill="#000080"/>
<rect x="110" y="75" width="44" height="1" fill="#ff00ff"/>
<rect x="128" y="71" width="8" height="8" fill="#ff00ff"/>
<rect x="110" y="94" width="44" height="1" fill="#ffff00"/>
<polygon points="132.5,89.5 137,99 128,99" fill="#ffff00"/>
<rect x="110" y="112" width="44" height="1" fill="#00ffff"/>
<path d="M129,109L136,116M136,109L129,116" stroke="#00ffff" fill="none"/>
<rect x="110" y="131" width="44" height="1" fill="#800080"/>
<path d="M129,128L136,135M136,128L129,135M132.5,128V135M129,131.5H136" stroke="#800080" fill="none"/>
<rect x="110" y="149" width="44" height="1" fill="#800000"/>
<path d="M131,145h2v1h2v2h1v2h-1v2h-2v1h-2v-1h-2v-2h-1v-2h1v-2h2z" fill="#800000"/>
<rect x="110" y="168" width="44" height="1" fill="#008080"/>
<path d="M132.5,165V172M129,168.5H136" stroke="#008080" fill="none"/>
<rect x="110" y="186" width="44" height="1" fill="#0000ff"/>
<rect x="132" y="185" width="5" height="2" fill="#0000ff"/>
<rect x="110" y="205" width="44" height="1" fill="#00ccff"/>
<rect x="128" y="204" width="9" height="2" fill="#00ccff"/>
<path d="M110,223.5H154" stroke="#808080" stroke-dasharray="3 3" fill="none"/>
<path d="M132,222h1v1h1v1h-1v1h-1v-1h-1v-1h1z" fill="#000"/><rect x="132" y="223" width="1" height="1" fill="#c8c8c8"/>
</g>
<text transform="translate(157.80,62) scale(0.9181,1.02)" font-size="15.36px" fill="#000" filter="url(#th)">Aquitaine</text>
<text transform="translate(157.80,80) scale(0.9327,1.02)" font-size="15.36px" fill="#000" filter="url(#th)">Aridon</text>
<text transform="translate(157.94,99) scale(0.9331,1.02)" font-size="15.36px" fill="#000" filter="url(#th)">beep</text>
<text transform="translate(157.58,117) scale(0.9896,1.02)" font-size="15.36px" fill="#000" filter="url(#th)">Dorsai!</text>
<text transform="translate(157.46,136) scale(0.9682,1.02)" font-size="15.36px" fill="#000" filter="url(#th)">Industmech</text>
<text transform="translate(157.62,154) scale(0.9613,1.02)" font-size="15.36px" fill="#000" filter="url(#th)">LaCucaracha</text>
<text transform="translate(157.31,173) scale(0.9677,1.02)" font-size="15.36px" fill="#000" filter="url(#th)">Roatan</text>
<text transform="translate(158.15,191) scale(0.9650,1.02)" font-size="15.36px" fill="#000" filter="url(#th)">Temekula</text>
<text transform="translate(158.01,210) scale(0.9465,1.02)" font-size="15.36px" fill="#000" filter="url(#th)">Thistle</text>
<text transform="translate(158.00,228) scale(0.9786,1.02)" font-size="15.36px" fill="#000" filter="url(#th)">Terminator</text>
<text transform="translate(503,42) scale(1,1)" font-size="18.15px" font-weight="bold" text-anchor="middle" fill="#000" filter="url(#tb)">Petting Zoo 5 - Happiness</text>
<text transform="translate(509.90,673) scale(0.9737,1.0)" font-size="15.36px" font-weight="bold" fill="#000" filter="url(#tb)">Update</text>
<text transform="translate(39.3,318) rotate(-90) scale(0.9488,1.0)" font-size="15.36px" font-weight="bold" text-anchor="middle" fill="#000" filter="url(#tb)">Happiness</text>
<text transform="translate(60.30,632) scale(0.9590,1.09)" font-size="15px" fill="#000" filter="url(#th)">0</text>
<text transform="translate(60.30,510) scale(0.9590,1.09)" font-size="15px" fill="#000" filter="url(#th)">5</text>
<text transform="translate(52.30,389) scale(0.9590,1.09)" font-size="15px" fill="#000" filter="url(#th)">10</text>
<text transform="translate(52.30,267) scale(0.9590,1.09)" font-size="15px" fill="#000" filter="url(#th)">15</text>
<text transform="translate(52.30,146) scale(0.9590,1.09)" font-size="15px" fill="#000" filter="url(#th)">20</text>
<text transform="translate(52.30,24) scale(0.9590,1.09)" font-size="15px" fill="#000" filter="url(#th)">25</text>
<text transform="translate(76.30,654) scale(0.9590,1.09)" font-size="15px" fill="#000" filter="url(#th)">1</text>
<text transform="translate(101.30,654) scale(0.9590,1.09)" font-size="15px" fill="#000" filter="url(#th)">2</text>
<text transform="translate(125.30,654) scale(0.9590,1.09)" font-size="15px" fill="#000" filter="url(#th)">3</text>
<text transform="translate(150.30,654) scale(0.9590,1.09)" font-size="15px" fill="#000" filter="url(#th)">4</text>
<text transform="translate(174.30,654) scale(0.9590,1.09)" font-size="15px" fill="#000" filter="url(#th)">5</text>
<text transform="translate(199.30,654) scale(0.9590,1.09)" font-size="15px" fill="#000" filter="url(#th)">6</text>
<text transform="translate(224.30,654) scale(0.9590,1.09)" font-size="15px" fill="#000" filter="url(#th)">7</text>
<text transform="translate(248.30,654) scale(0.9590,1.09)" font-size="15px" fill="#000" filter="url(#th)">8</text>
<text transform="translate(273.30,654) scale(0.9590,1.09)" font-size="15px" fill="#000" filter="url(#th)">9</text>
<text transform="translate(293.30,654) scale(0.9590,1.09)" font-size="15px" fill="#000" filter="url(#th)">10</text>
<text transform="translate(318.30,654) scale(0.9590,1.09)" font-size="15px" fill="#000" filter="url(#th)">11</text>
<text transform="translate(342.30,654) scale(0.9590,1.09)" font-size="15px" fill="#000" filter="url(#th)">12</text>
<text transform="translate(367.30,654) scale(0.9590,1.09)" font-size="15px" fill="#000" filter="url(#th)">13</text>
<text transform="translate(392.30,654) scale(0.9590,1.09)" font-size="15px" fill="#000" filter="url(#th)">14</text>
<text transform="translate(416.30,654) scale(0.9590,1.09)" font-size="15px" fill="#000" filter="url(#th)">15</text>
<text transform="translate(441.30,654) scale(0.9590,1.09)" font-size="15px" fill="#000" filter="url(#th)">16</text>
<text transform="translate(465.30,654) scale(0.9590,1.09)" font-size="15px" fill="#000" filter="url(#th)">17</text>
<text transform="translate(490.30,654) scale(0.9590,1.09)" font-size="15px" fill="#000" filter="url(#th)">18</text>
<text transform="translate(515.30,654) scale(0.9590,1.09)" font-size="15px" fill="#000" filter="url(#th)">19</text>
<text transform="translate(539.30,654) scale(0.9590,1.09)" font-size="15px" fill="#000" filter="url(#th)">20</text>
<text transform="translate(564.30,654) scale(0.9590,1.09)" font-size="15px" fill="#000" filter="url(#th)">21</text>
<text transform="translate(588.30,654) scale(0.9590,1.09)" font-size="15px" fill="#000" filter="url(#th)">22</text>
<text transform="translate(613.30,654) scale(0.9590,1.09)" font-size="15px" fill="#000" filter="url(#th)">23</text>
<text transform="translate(638.30,654) scale(0.9590,1.09)" font-size="15px" fill="#000" filter="url(#th)">24</text>
<text transform="translate(662.30,654) scale(0.9590,1.09)" font-size="15px" fill="#000" filter="url(#th)">25</text>
<text transform="translate(687.30,654) scale(0.9590,1.09)" font-size="15px" fill="#000" filter="url(#th)">26</text>
<text transform="translate(711.30,654) scale(0.9590,1.09)" font-size="15px" fill="#000" filter="url(#th)">27</text>
<text transform="translate(736.30,654) scale(0.9590,1.09)" font-size="15px" fill="#000" filter="url(#th)">28</text>
<text transform="translate(760.30,654) scale(0.9590,1.09)" font-size="15px" fill="#000" filter="url(#th)">29</text>
<text transform="translate(785.30,654) scale(0.9590,1.09)" font-size="15px" fill="#000" filter="url(#th)">30</text>
<text transform="translate(810.30,654) scale(0.9590,1.09)" font-size="15px" fill="#000" filter="url(#th)">31</text>
<text transform="translate(834.30,654) scale(0.9590,1.09)" font-size="15px" fill="#000" filter="url(#th)">32</text>
<text transform="translate(859.30,654) scale(0.9590,1.09)" font-size="15px" fill="#000" filter="url(#th)">33</text>
<text transform="translate(883.30,654) scale(0.9590,1.09)" font-size="15px" fill="#000" filter="url(#th)">34</text>
<text transform="translate(908.30,654) scale(0.9590,1.09)" font-size="15px" fill="#000" filter="url(#th)">35</text>
<text transform="translate(933.30,654) scale(0.9590,1.09)" font-size="15px" fill="#000" filter="url(#th)">36</text>
<text transform="translate(957.30,654) scale(0.9590,1.09)" font-size="15px" fill="#000" filter="url(#th)">37</text>
<text transform="translate(982.30,654) scale(0.9590,1.09)" font-size="15px" fill="#000" filter="url(#th)">38</text>
</svg>
</body></html>
